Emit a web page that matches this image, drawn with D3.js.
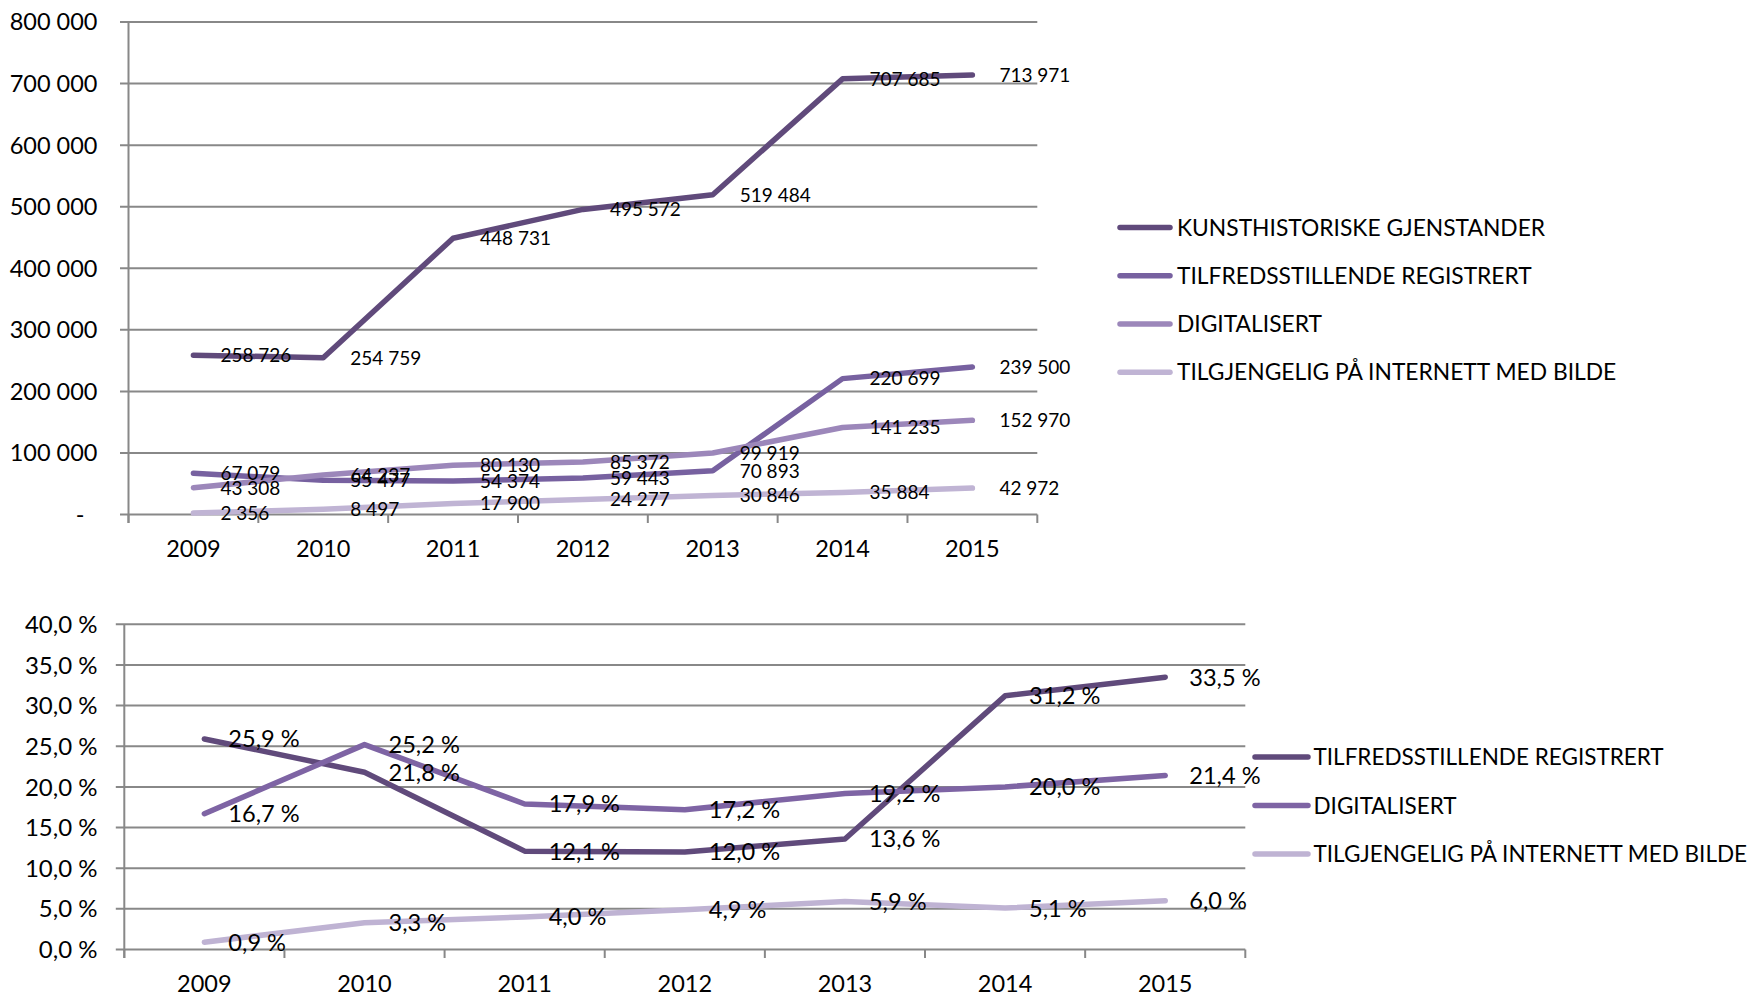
<!DOCTYPE html>
<html>
<head>
<meta charset="utf-8">
<script src="https://cdn.jsdelivr.net/npm/d3@7"></script>
<style>
  html, body { margin: 0; padding: 0; background: #fff; }
  svg { display: block; }
  text { font-family: Lato, "Noto Sans", sans-serif; fill: #000; }
</style>
</head>
<body>
<svg id="chart" width="1756" height="999"></svg>
<script>
// ---------- DATA ----------
const years = ["2009", "2010", "2011", "2012", "2013", "2014", "2015"];

// Top chart (absolute counts)
const topSeriesNames = ["KUNSTHISTORISKE GJENSTANDER", "TILFREDSSTILLENDE REGISTRERT", "DIGITALISERT", "TILGJENGELIG PÅ INTERNETT MED BILDE"];
const kunsthistoriske = [258726, 254759, 448731, 495572, 519484, 707685, 713971];
const tilfredsstillende = [67079, 55477, 54374, 59443, 70893, 220699, 239500];
const digitalisert = [43308, 64237, 80130, 85372, 99919, 141235, 152970];
const tilgjengelig = [2356, 8497, 17900, 24277, 30846, 35884, 42972];
const topTicks = [0, 100000, 200000, 300000, 400000, 500000, 600000, 700000, 800000];
const topColors = ["#604A7B", "#7761A0", "#9C87BA", "#C0B4D4"];

// Bottom chart (percent)
const pctSeriesNames = ["TILFREDSSTILLENDE REGISTRERT", "DIGITALISERT", "TILGJENGELIG PÅ INTERNETT MED BILDE"];
const pctTilfredsstillende = [25.9, 21.8, 12.1, 12.0, 13.6, 31.2, 33.5];
const pctDigitalisert = [16.7, 25.2, 17.9, 17.2, 19.2, 20.0, 21.4];
const pctTilgjengelig = [0.9, 3.3, 4.0, 4.9, 5.9, 5.1, 6.0];
const pctTicks = [0, 5, 10, 15, 20, 25, 30, 35, 40];
const pctColors = ["#604A7B", "#7E64A4", "#BFB3D3"];

// ---------- DRAW ----------
const svg = d3.select("#chart");
svg.append("rect").attr("width", 1756).attr("height", 999).attr("fill", "#fff");

const gridColor = "#888888";

function numFmt(v) { return v === 0 ? "-" : d3.format(",")(v).replace(/,/g, " "); }
function pctFmt(v) { return v.toFixed(1).replace(".", ",") + " %"; }

function drawChart(cfg) {
  const g = svg.append("g");
  const x = d3.scaleBand().domain(years).range([cfg.x0, cfg.x1]).padding(0);
  const y = d3.scaleLinear().domain([0, cfg.max]).range([cfg.y0, cfg.y1]);
  const cx = d => x(d) + x.bandwidth() / 2;

  // gridlines + y ticks
  g.selectAll(".grid").data(cfg.ticks).enter().append("line")
    .attr("x1", cfg.x0 - cfg.tickLen).attr("x2", cfg.x1)
    .attr("y1", d => y(d)).attr("y2", d => y(d))
    .attr("stroke", gridColor).attr("stroke-width", 2);

  // y axis line
  g.append("line").attr("x1", cfg.x0).attr("x2", cfg.x0)
    .attr("y1", y(cfg.max)).attr("y2", y(0) + cfg.tickLen)
    .attr("stroke", gridColor).attr("stroke-width", 2);

  // x ticks at band boundaries
  const bounds = years.map(d => x(d)).concat([cfg.x1]);
  g.selectAll(".xt").data(bounds).enter().append("line")
    .attr("x1", d => d).attr("x2", d => d)
    .attr("y1", y(0)).attr("y2", y(0) + cfg.tickLen)
    .attr("stroke", gridColor).attr("stroke-width", 2);

  // y tick labels
  g.selectAll(".yl").data(cfg.ticks).enter().append("text")
    .attr("x", d => d === 0 && cfg.dashZero ? cfg.yLabelX - 13 : cfg.yLabelX)
    .attr("y", d => y(d)).attr("dy", "0.36em")
    .attr("text-anchor", "end").attr("font-size", cfg.yFont)
    .text(cfg.tickFmt);

  // x labels
  g.selectAll(".xl").data(years).enter().append("text")
    .attr("x", d => cx(d)).attr("y", cfg.xLabelY).attr("dy", "0.36em")
    .attr("text-anchor", "middle").attr("font-size", cfg.xFont)
    .text(d => d);

  // lines
  const line = d3.line().x((d, i) => cx(years[i])).y(d => y(d));
  cfg.series.forEach((s, k) => {
    g.append("path").datum(s).attr("d", line)
      .attr("fill", "none").attr("stroke", cfg.colors[k])
      .attr("stroke-width", 5.5).attr("stroke-linecap", "round").attr("stroke-linejoin", "round");
  });

  // data labels
  cfg.series.forEach((s, k) => {
    g.selectAll(".dl" + k).data(s).enter().append("text")
      .attr("x", (d, i) => cx(years[i]) + cfg.labelDx)
      .attr("y", d => y(d)).attr("dy", "0.36em")
      .attr("font-size", cfg.labelFont)
      .text(cfg.labelFmt);
  });

  // legend
  cfg.names.forEach((n, k) => {
    const ly = cfg.legY[k];
    g.append("line").attr("x1", cfg.legX0).attr("x2", cfg.legX1)
      .attr("y1", ly).attr("y2", ly)
      .attr("stroke", cfg.colors[k]).attr("stroke-width", 5.5).attr("stroke-linecap", "round");
    g.append("text").attr("x", cfg.legTextX).attr("y", ly).attr("dy", "0.36em")
      .attr("font-size", cfg.legFont).text(n);
  });
}

drawChart({
  x0: 128.5, x1: 1037.3, y0: 514.5, y1: 22, max: 800000, tickLen: 8.5,
  ticks: topTicks, tickFmt: numFmt, dashZero: true, yLabelX: 97.5, yFont: 23.5,
  xLabelY: 549, xFont: 23.5,
  series: [kunsthistoriske, tilfredsstillende, digitalisert, tilgjengelig],
  colors: topColors, labelDx: 27, labelFont: 19, labelFmt: numFmt,
  names: topSeriesNames, legX0: 1120, legX1: 1170, legTextX: 1177,
  legY: [227.5, 275.8, 324, 372.2], legFont: 22.8
});

drawChart({
  x0: 124.3, x1: 1245.3, y0: 949.5, y1: 624.3, max: 40, tickLen: 8.5,
  ticks: pctTicks, tickFmt: pctFmt, dashZero: false, yLabelX: 97.5, yFont: 24,
  xLabelY: 984, xFont: 23.5,
  series: [pctTilfredsstillende, pctDigitalisert, pctTilgjengelig],
  colors: pctColors, labelDx: 24, labelFont: 23.6, labelFmt: pctFmt,
  names: pctSeriesNames, legX0: 1255, legX1: 1308, legTextX: 1313.5,
  legY: [757, 805.5, 854], legFont: 22.5
});
</script>
</body>
</html>
